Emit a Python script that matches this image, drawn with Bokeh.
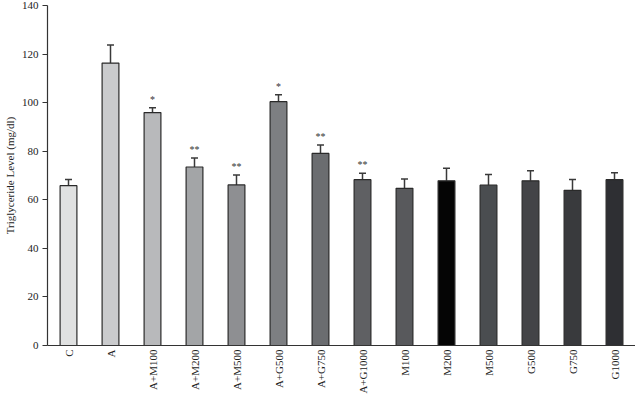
from bokeh.plotting import figure
from bokeh.models import ColumnDataSource, Whisker, TeeHead, FactorRange, FixedTicker, Label
from bokeh.embed import file_html
from bokeh.resources import INLINE
from bokeh.core.properties import value
import math

groups = ["C", "A", "A+M100", "A+M200", "A+M500", "A+G500", "A+G750", "A+G1000",
          "M100", "M200", "M500", "G500", "G750", "G1000"]
means = [65.8, 116.3, 95.9, 73.5, 66.1, 100.4, 79.1, 68.3, 64.7, 67.8, 66.0, 67.8, 63.9, 68.3]
upper = [68.4, 123.7, 97.9, 77.2, 70.2, 103.2, 82.6, 70.9, 68.6, 73.0, 70.4, 72.0, 68.4, 71.1]
signif = ["", "", "*", "**", "**", "*", "**", "**", "", "", "", "", "", ""]
colors = ["#e0e1e1", "#cacbcd", "#b8b9bb", "#a3a5a7", "#8e8f92", "#7d7f82", "#6b6d70",
          "#5f6063", "#58595c", "#050505", "#4a4d50", "#434447", "#393a3d", "#2e2f33"]
y_ticks = [0, 20, 40, 60, 80, 100, 120, 140]

src = ColumnDataSource(dict(g=groups, m=means, u=upper, s=signif, c=colors))

p = figure(x_range=FactorRange(*groups, range_padding=0), y_range=(0, 140),
           width=635, height=411, output_backend="svg", toolbar_location=None,
           min_border_left=20, min_border_right=0, min_border_top=5, min_border_bottom=66)
p.outline_line_color = None
p.xgrid.grid_line_color = None
p.ygrid.grid_line_color = None

p.vbar(x="g", top="m", bottom=0, width=0.4, fill_color="c", line_color="#2a2a2a",
       line_width=1.2, source=src)

w = Whisker(base="g", upper="u", lower="m", source=src, line_color="#3a3a3a", line_width=1.5,
            upper_head=TeeHead(size=7, line_color="#3a3a3a", line_width=1.5), lower_head=None)
p.add_layout(w)

p.text(x="g", y="u", text="s", source=src, text_align="center", text_baseline="bottom",
       y_offset=-3, text_font=value("Liberation Serif"), text_font_size="10px",
       text_color="#333333")

p.yaxis.ticker = FixedTicker(ticks=y_ticks)
p.yaxis.minor_tick_line_color = None
p.yaxis.major_tick_out = 5
p.yaxis.major_tick_in = 0
p.xaxis.major_tick_line_color = None
p.xaxis.major_tick_out = 0
p.xaxis.major_tick_in = 0
p.xaxis.major_label_orientation = math.pi / 2
for ax in (p.xaxis, p.yaxis):
    ax.axis_line_color = "#333333"
    ax.axis_line_width = 1.2
    ax.major_label_text_font = "Liberation Serif"
    ax.major_label_text_font_size = "11px"
    ax.major_label_text_color = "#222222"
    ax.axis_label_text_font = "Liberation Serif"
    ax.axis_label_text_font_size = "11px"
    ax.axis_label_text_font_style = "normal"
    ax.axis_label_text_color = "#222222"
p.yaxis.major_tick_line_color = "#333333"
p.yaxis.axis_label = "Triglyceride Level (mg/dl)"
p.yaxis.axis_label_standoff = 3
p.yaxis.major_label_standoff = 4
p.xaxis.major_label_standoff = 4

xlab = Label(x=296, y=-53, x_units="screen", y_units="screen",
             text="Response observed from different groups", text_align="center",
             text_baseline="top", text_font="Liberation Serif", text_font_size="11px",
             text_color="#222222")
p.add_layout(xlab)

open("out.html", "w").write(file_html(p, INLINE))
